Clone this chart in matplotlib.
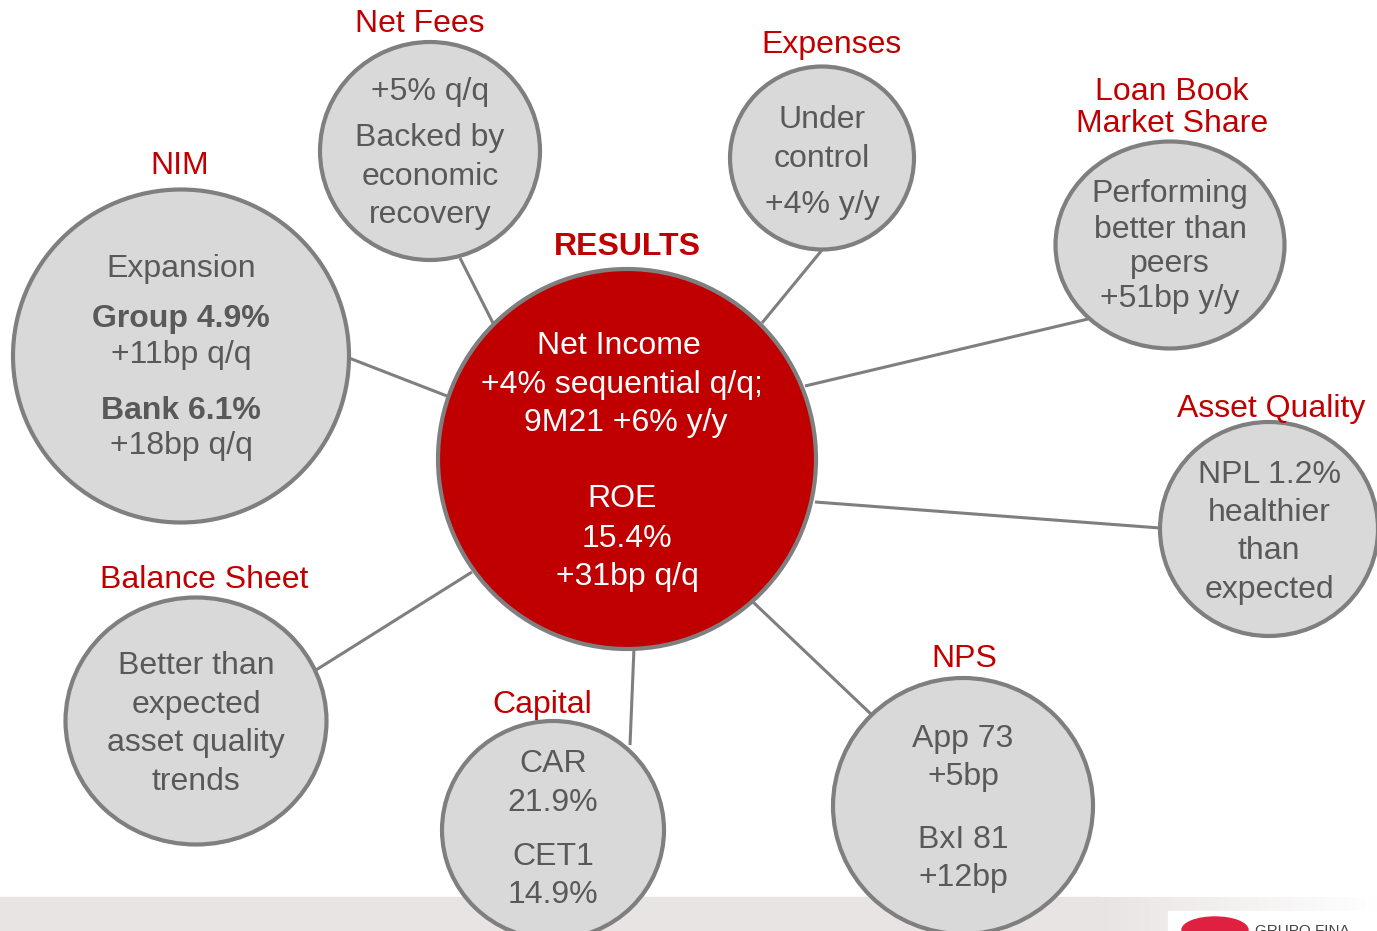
import matplotlib.pyplot as plt
from matplotlib.patches import Ellipse, Rectangle
import numpy as np

plt.rcParams['font.family'] = ['Liberation Sans', 'DejaVu Sans']

RED = '#c00000'
GREY_TXT = '#595959'
FILL = '#d9d9d9'
EDGE = '#7f7f7f'
FS = 23

# bubble titles and contents
titles = ['NIM', 'Net Fees', 'Expenses', 'Loan Book\nMarket Share', 'Asset Quality',
          'NPS', 'Capital', 'Balance Sheet']
title_pos = [(180, 166), (420, 24), (832, 45), (1172, 108), (1271, 409),
             (964, 659), (542, 705), (204, 580)]

# (cx, cy, width, height) in pixels
bubbles = [(181, 356, 336, 333), (430, 151, 220, 218), (822, 158, 184, 183),
           (1170, 245, 229, 207), (1269, 529, 218, 214), (963, 806, 260, 256),
           (553, 830, 222, 218), (196, 721, 261, 247)]

bubble_text = [
    [('Expansion', 267, 'normal'), ('Group 4.9%', 317, 'bold'), ('+11bp q/q', 353, 'normal'),
     ('Bank 6.1%', 409, 'bold'), ('+18bp q/q', 444, 'normal')],
    [('+5% q/q', 90, 'normal'), ('Backed by', 136, 'normal'), ('economic', 175, 'normal'),
     ('recovery', 213, 'normal')],
    [('Under', 118, 'normal'), ('control', 157, 'normal'), ('+4% y/y', 203, 'normal')],
    [('Performing', 192, 'normal'), ('better than', 228, 'normal'), ('peers', 262, 'normal'),
     ('+51bp y/y', 297, 'normal')],
    [('NPL 1.2%', 473, 'normal'), ('healthier', 511, 'normal'), ('than', 549, 'normal'),
     ('expected', 588, 'normal')],
    [('App 73', 737, 'normal'), ('+5bp', 775, 'normal'), ('BxI 81', 838, 'normal'),
     ('+12bp', 876, 'normal')],
    [('CAR', 762, 'normal'), ('21.9%', 801, 'normal'), ('CET1', 855, 'normal'),
     ('14.9%', 893, 'normal')],
    [('Better than', 664, 'normal'), ('expected', 703, 'normal'), ('asset quality', 741, 'normal'),
     ('trends', 780, 'normal')],
]

center_lines = [('Net Income', 344, 619), ('+4% sequential q/q;', 383, 622),
                ('9M21 +6% y/y', 421, 626), ('ROE', 497, 622), ('15.4%', 537, 627),
                ('+31bp q/q', 575, 627)]

# connector segments (start on centre circle, end on bubble)
connectors = [((447, 396), (349, 358)), ((493, 323), (460, 258)), ((762, 323), (822, 250)),
              ((805, 386), (1088, 319)), ((815, 502), (1160, 528)), ((753, 602), (873, 716)),
              ((634, 648), (630, 745)), ((472, 572), (316, 670))]

fig = plt.figure(figsize=(13.77, 9.31), dpi=100)
ax = fig.add_axes([0, 0, 1, 1])
ax.set_xlim(0, 1377)
ax.set_ylim(931, 0)
ax.axis('off')

# bottom band with fade to white on the right
band = np.ones((1, 300, 3))
grad = np.linspace(0, 1, 300)
base = np.array([0.91, 0.895, 0.89])
band[0] = base[None, :] * (1 - grad[:, None]) + grad[:, None] * 1.0
ax.add_patch(Rectangle((0, 897), 1100, 40, color='#e8e4e3', zorder=0))
ax.imshow(band, extent=(1100, 1377, 937, 897), aspect='auto', zorder=0)
ax.add_patch(Rectangle((1168, 911), 220, 30, color='white', zorder=0.5))
ax.add_patch(Ellipse((1215, 930), 66, 26, color='#e02040', zorder=0.6))
ax.text(1255, 938, 'GRUPO FINA', fontsize=11, color='#444444', va='bottom',
        ha='left', zorder=0.7)

for (x0, y0), (x1, y1) in connectors:
    ax.plot([x0, x1], [y0, y1], color=EDGE, lw=2.2, zorder=1, solid_capstyle='butt')

for (cx, cy, w, h) in bubbles:
    ax.add_patch(Ellipse((cx, cy), w, h, facecolor=FILL, edgecolor=EDGE, lw=3, zorder=2))

ax.add_patch(Ellipse((627, 459), 378, 380, facecolor=RED, edgecolor=EDGE, lw=3, zorder=2))

for t, (x, y) in zip(titles, title_pos):
    ax.text(x, y, t, color=RED, fontsize=FS, ha='center', va='center', linespacing=1.1,
            zorder=3)

ax.text(627, 247, 'RESULTS', color=RED, fontsize=FS, fontweight='bold', ha='center',
        va='center', zorder=3)

for (cx, cy, w, h), lines in zip(bubbles, bubble_text):
    for s, y, wt in lines:
        ax.text(cx, y + 2, s, color=GREY_TXT, fontsize=FS, fontweight=wt, ha='center',
                va='center', zorder=3)

for s, y, x in center_lines:
    ax.text(x, y + 2, s, color='white', fontsize=FS, ha='center', va='center', zorder=3)

fig.savefig('out.png', dpi=100)
